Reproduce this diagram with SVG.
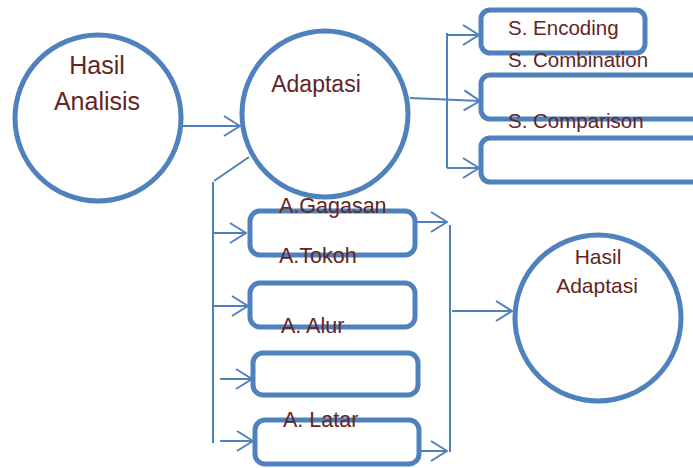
<svg xmlns="http://www.w3.org/2000/svg" width="693" height="468" viewBox="0 0 693 468">
<style>
.shape{fill:#fff;stroke:#4F81BD;stroke-width:5}
.conn{fill:none;stroke:#4F81BD;stroke-width:2}
.lbl{font-family:"Liberation Sans",Arial,sans-serif;fill:#632523}
</style>
<defs>
<marker id="ah" viewBox="0 0 18 22" refX="17" refY="11" markerWidth="18" markerHeight="22" markerUnits="userSpaceOnUse" orient="auto">
<path d="M1,1 L17,11 L1,21" fill="none" stroke="#4F81BD" stroke-width="2"/>
</marker>
</defs>
<rect width="693" height="468" fill="#fff"/>
<g id="connectors" class="conn">
<path d="M183,126 L240,126" marker-end="url(#ah)"/>
<path d="M249,157 L214,181"/>
<path d="M213,182 L213,443"/>
<path d="M213,233 L246,233" marker-end="url(#ah)"/>
<path d="M213,306 L248,306" marker-end="url(#ah)"/>
<path d="M220,379 L252,379" marker-end="url(#ah)"/>
<path d="M220,441 L253,441" marker-end="url(#ah)"/>
<path d="M417,222 L447,222" marker-end="url(#ah)"/>
<path d="M450,225 L450,452"/>
<path d="M417,451 L447,451" marker-end="url(#ah)"/>
<path d="M452,311 L512,311" marker-end="url(#ah)"/>
<path d="M410,98 L480,101" marker-end="url(#ah)"/>
<path d="M447,33 L447,168"/>
<path d="M447,35 L479,35" marker-end="url(#ah)"/>
<path d="M447,168 L479,168" marker-end="url(#ah)"/>
</g>
<g id="hasil-analisis">
<circle class="shape" cx="98" cy="118" r="83"/>
<text class="lbl" x="97" y="74" font-size="25" text-anchor="middle">Hasil</text>
<text class="lbl" x="97" y="110" font-size="25" text-anchor="middle">Analisis</text>
</g>
<g id="adaptasi">
<circle class="shape" cx="325" cy="114" r="83"/>
<text class="lbl" x="316" y="92" font-size="23" text-anchor="middle">Adaptasi</text>
</g>
<g id="hasil-adaptasi">
<circle class="shape" cx="598" cy="318" r="83"/>
<text class="lbl" x="598" y="264" font-size="21" text-anchor="middle">Hasil</text>
<text class="lbl" x="597" y="293" font-size="21" text-anchor="middle">Adaptasi</text>
</g>
<g id="s-encoding"><rect class="shape" x="481" y="10" width="164" height="43" rx="9"/></g>
<g id="s-combination"><rect class="shape" x="481" y="75" width="230" height="44" rx="9"/></g>
<g id="s-comparison"><rect class="shape" x="481" y="138" width="230" height="44" rx="9"/></g>
<g id="a-gagasan"><rect class="shape" x="250" y="211" width="165" height="44" rx="10"/></g>
<g id="a-tokoh"><rect class="shape" x="250" y="283" width="165" height="44" rx="10"/></g>
<g id="a-alur"><rect class="shape" x="253" y="353" width="165" height="42" rx="10"/></g>
<g id="a-latar"><rect class="shape" x="255" y="420" width="164" height="44" rx="10"/></g>
<g id="labels" class="lbl" font-size="20.5">
<text x="508" y="35">S. Encoding</text>
<text x="508" y="67">S. Combination</text>
<text x="508" y="128">S. Comparison</text>
<text x="279" y="213" font-size="21.5">A.Gagasan</text>
<text x="279" y="263" font-size="21.5">A.Tokoh</text>
<text x="281" y="333" font-size="21.5">A. Alur</text>
<text x="283" y="427" font-size="21.5">A. Latar</text>
</g>
</svg>
